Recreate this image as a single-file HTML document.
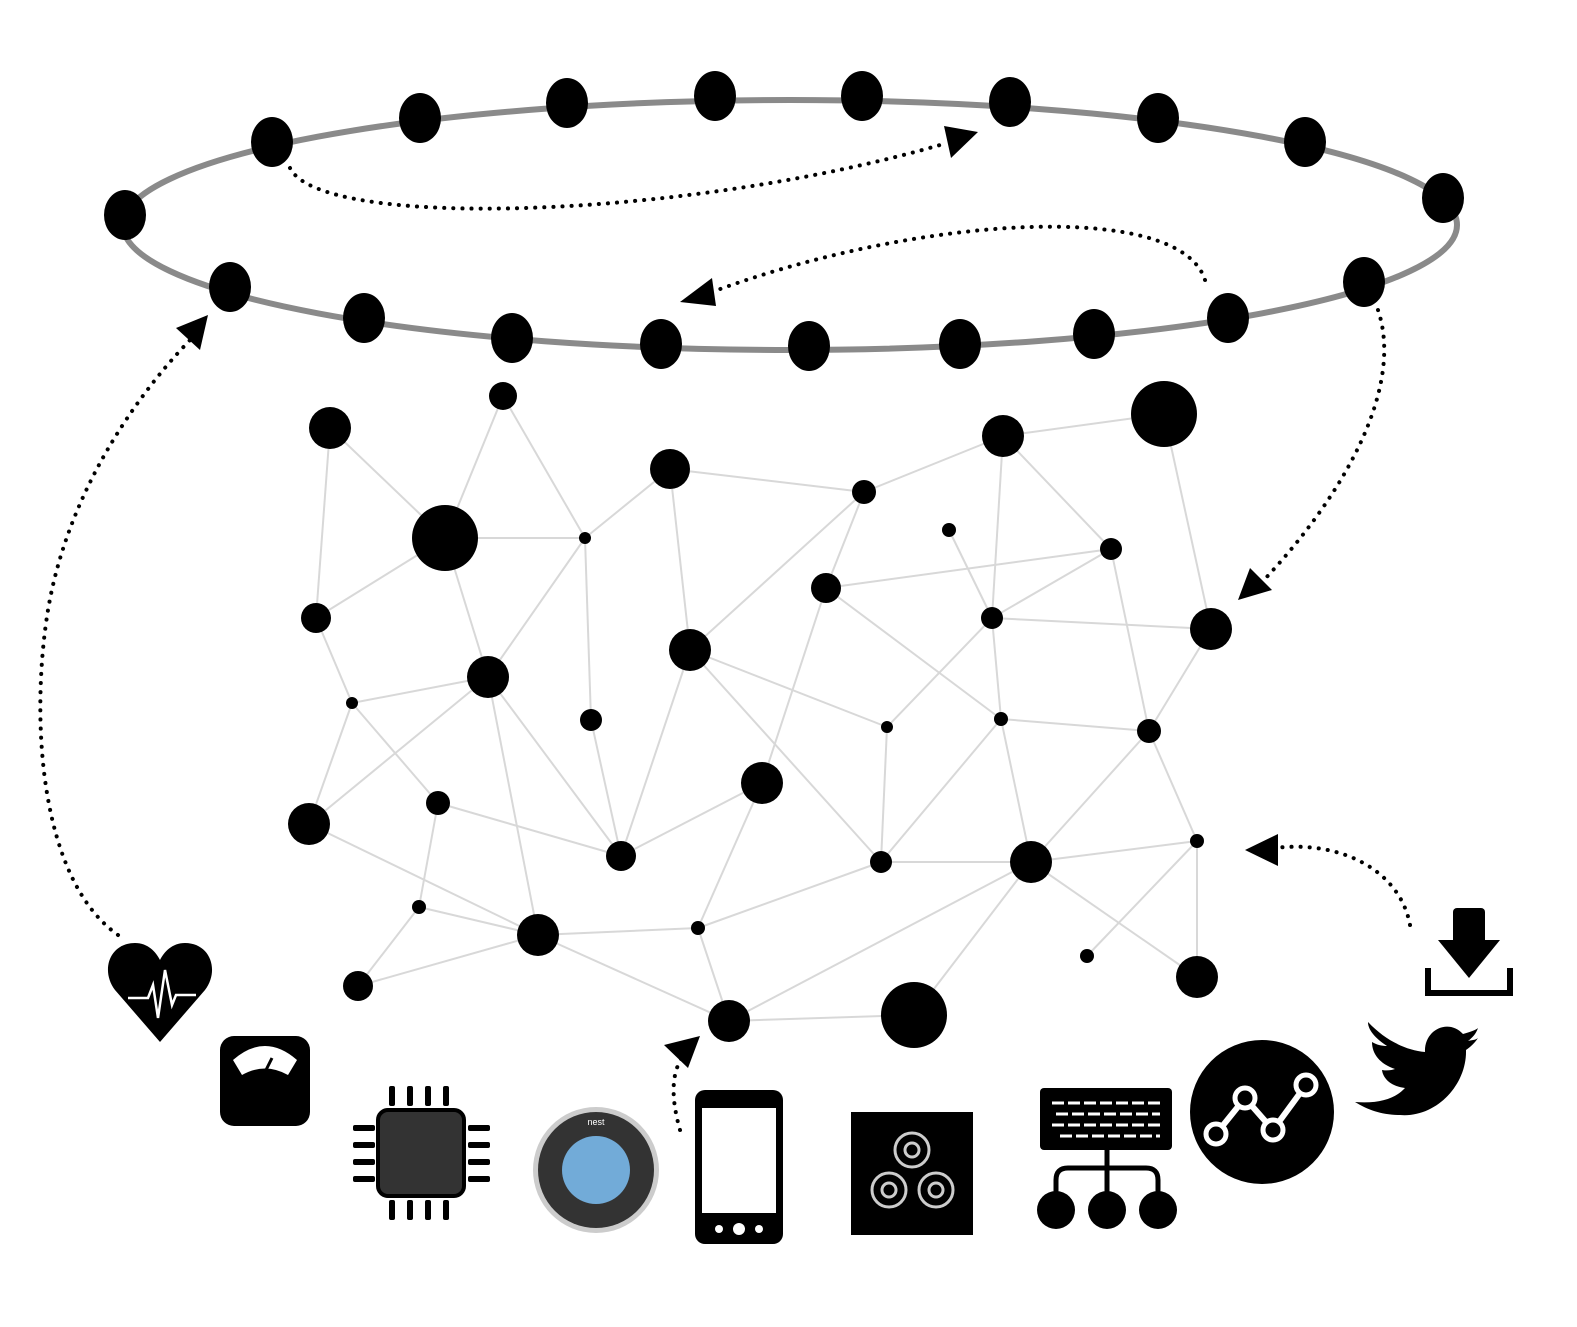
<!DOCTYPE html>
<html><head><meta charset="utf-8"><style>
html,body{margin:0;padding:0;background:#fff;}
svg{display:block;}
</style></head><body>
<svg id="s" width="1577" height="1327" viewBox="0 0 1577 1327" xmlns="http://www.w3.org/2000/svg">
<g id="edges"></g>
<g id="nodes"></g>
<ellipse cx="790" cy="225" rx="667" ry="125" fill="none" stroke="#8a8a8a" stroke-width="6"/>
<g id="ring"></g>
<g fill="none" stroke="#000" stroke-width="4" stroke-dasharray="0.1 9" stroke-linecap="round">
<path d="M290,168 C320,230 680,220 940,145"/>
<path d="M1205,280 C1180,200 920,215 712,292"/>
<path d="M1378,310 C1405,390 1340,500 1262,582"/>
<path d="M118,935 C40,880 30,720 48,610 C70,480 150,380 195,335"/>
<path d="M1410,925 C1400,870 1340,840 1275,848"/>
<path d="M680,1130 C670,1095 672,1070 684,1055"/>
</g>
<g fill="#000">
<polygon points="978,132 944,126 951,158"/>
<polygon points="680,302 712,278 716,306"/>
<polygon points="1238,600 1250,568 1272,590"/>
<polygon points="208,315 176,328 200,350"/>
<polygon points="1245,850 1278,834 1278,866"/>
<polygon points="700,1036 664,1045 688,1068"/>
</g>

<g>
<path d="M160,1042 L115,990 C100,970 110,943 135,943 C148,943 156,952 160,960 C164,952 172,943 185,943 C210,943 220,970 205,990 Z" fill="#000"/>
<polyline points="128,998 148,998 153,985 158,1018 165,970 172,1005 176,995 196,995" fill="none" stroke="#fff" stroke-width="2.5"/>
</g>
<g>
<rect x="220" y="1036" width="90" height="90" rx="14" fill="#000"/>
<path d="M233,1060 Q265,1032 297,1060 L288,1075 Q265,1062 242,1075 Z" fill="#fff"/>
<line x1="265" y1="1072" x2="272" y2="1058" stroke="#000" stroke-width="3"/>
</g>
<g>
<rect x="378" y="1110" width="86" height="86" rx="10" fill="#333" stroke="#000" stroke-width="4"/>
<g id="pins" fill="#000"></g>
</g>
<g>
<circle cx="596" cy="1170" r="63" fill="#ccc"/>
<circle cx="596" cy="1170" r="58" fill="#333"/>
<circle cx="596" cy="1170" r="34" fill="#72abd8"/>
<text x="596" y="1125" font-family="Liberation Sans, sans-serif" font-size="9" fill="#fff" text-anchor="middle">nest</text>
</g>
<g>
<rect x="695" y="1090" width="88" height="154" rx="10" fill="#000"/>
<rect x="702" y="1108" width="74" height="105" fill="#fff"/>
<circle cx="739" cy="1229" r="6" fill="#fff"/><circle cx="719" cy="1229" r="4" fill="#fff"/><circle cx="759" cy="1229" r="4" fill="#fff"/>
</g>
<g>
<rect x="851" y="1112" width="122" height="123" fill="#000"/>
<g fill="none" stroke="#ccc" stroke-width="3">
<circle cx="912" cy="1150" r="17"/><circle cx="889" cy="1190" r="17"/><circle cx="936" cy="1190" r="17"/>
<circle cx="912" cy="1150" r="7"/><circle cx="889" cy="1190" r="7"/><circle cx="936" cy="1190" r="7"/>
</g>
</g>
<g>
<rect x="1040" y="1088" width="132" height="62" rx="4" fill="#000"/>
<g stroke="#fff" stroke-width="3" stroke-dasharray="12 4">
<line x1="1052" y1="1103" x2="1160" y2="1103"/><line x1="1056" y1="1114" x2="1160" y2="1114"/><line x1="1052" y1="1125" x2="1160" y2="1125"/><line x1="1060" y1="1136" x2="1160" y2="1136"/>
</g>
<path d="M1107,1150 V1195 M1056,1195 V1180 Q1056,1168 1068,1168 H1146 Q1158,1168 1158,1180 V1195" fill="none" stroke="#000" stroke-width="5"/>
<circle cx="1056" cy="1210" r="19" fill="#000"/><circle cx="1107" cy="1210" r="19" fill="#000"/><circle cx="1158" cy="1210" r="19" fill="#000"/>
</g>
<g>
<circle cx="1262" cy="1112" r="72" fill="#000"/>
<polyline points="1216,1134 1245,1098 1273,1130 1306,1085" fill="none" stroke="#fff" stroke-width="6"/>
<g fill="#000" stroke="#fff" stroke-width="5"><circle cx="1216" cy="1134" r="10"/><circle cx="1245" cy="1098" r="10"/><circle cx="1273" cy="1130" r="10"/><circle cx="1306" cy="1085" r="10"/></g>
</g>
<g>
<path d="M1355,1102 C1380,1104 1396,1098 1405,1088 C1390,1086 1383,1078 1382,1070 C1388,1071 1392,1070 1395,1069 C1380,1064 1372,1054 1372,1042 C1377,1045 1382,1046 1387,1046 C1372,1036 1368,1028 1368,1022 C1385,1040 1405,1050 1425,1052 C1424,1030 1448,1018 1463,1034 C1470,1032 1476,1030 1478,1028 C1476,1034 1472,1038 1468,1041 C1472,1040 1476,1040 1478,1038 C1474,1044 1470,1047 1466,1050 C1467,1085 1436,1118 1400,1115 C1382,1115 1368,1110 1355,1102 Z" fill="#000"/>
</g>
<g>
<rect x="1453" y="908" width="32" height="40" rx="4" fill="#000"/>
<polygon points="1438,940 1500,940 1469,978" fill="#000"/>
<path d="M1428,968 V993 H1510 V968" fill="none" stroke="#000" stroke-width="6"/>
</g>
</svg>
<script>
const ringX=[125,272,420,567,715,862,1010,1158,1305,1443,1364,1228,1094,960,809,661,512,364,230];
const ringY=[215,142,118,103,96,96,102,118,142,198,282,318,334,344,346,344,338,318,287];
const nodeIds=["A","B","C","D","E","F","G","H","I","J","K","L","M","N","O","P","Q","R","S","T","U","V","W","X","Y","Z","AA","AB","AC","AD","AE","AF","AG","AH","AI","AJ"];
const nodeX=[330,503,445,585,670,864,1003,1164,949,1111,826,316,992,1211,690,488,352,591,887,1001,1149,762,438,309,621,881,1031,1197,419,538,698,1087,1197,358,729,914];
const nodeY=[428,396,538,538,469,492,436,414,530,549,588,618,618,629,650,677,703,720,727,719,731,783,803,824,856,862,862,841,907,935,928,956,977,986,1021,1015];
const nodeR=[21,14,33,6,20,12,21,33,7,11,15,15,11,21,21,21,6,11,6,7,12,21,12,21,15,11,21,7,7,21,7,7,21,15,21,33];
const edgeFrom=["A","A","B","B","C","C","C","D","D","D","E","E","F","F","F","G","G","G","H","I","J","J","J","M","M","M","K","K","L","Q","Q","Q","P","P","P","O","O","O","R","T","T","T","S","U","U","U","V","V","W","W","X","AC","AC","AH","AD","AD","AE","AE","Z","AA","AA","AA","AA","AB","AB","AI"];
const edgeTo=["C","L","C","D","D","L","P","E","P","R","O","F","O","K","G","H","J","M","N","M","K","M","U","N","S","T","T","V","Q","P","W","X","X","Y","AD","Y","S","Z","Y","U","Z","AA","Z","N","AA","AB","Y","AE","Y","AC","AD","AD","AH","AD","AE","AI","Z","AI","AA","AB","AG","AI","AJ","AF","AG","AJ"];
const NS="http://www.w3.org/2000/svg";
const idx=id=>nodeIds.indexOf(id);
const eg=document.getElementById('edges');
for(let i=0;i<edgeFrom.length;i++){
  const a=idx(edgeFrom[i]),b=idx(edgeTo[i]);
  const l=document.createElementNS(NS,'line');
  l.setAttribute('x1',nodeX[a]);l.setAttribute('y1',nodeY[a]);l.setAttribute('x2',nodeX[b]);l.setAttribute('y2',nodeY[b]);
  l.setAttribute('stroke','#d8d8d8');l.setAttribute('stroke-width','2');
  
  
  eg.appendChild(l);
}
const ng=document.getElementById('nodes');
for(let i=0;i<nodeX.length;i++){
  const c=document.createElementNS(NS,'circle');
  c.setAttribute('cx',nodeX[i]);c.setAttribute('cy',nodeY[i]);c.setAttribute('r',nodeR[i]);c.setAttribute('fill','#000');
  
  
  ng.appendChild(c);
}
const rg=document.getElementById('ring');
for(let i=0;i<ringX.length;i++){
  const e=document.createElementNS(NS,'ellipse');
  e.setAttribute('cx',ringX[i]);e.setAttribute('cy',ringY[i]);e.setAttribute('rx',21);e.setAttribute('ry',25);e.setAttribute('fill','#000');
  
  
  rg.appendChild(e);
}
const pg=document.getElementById('pins');
for(let k=0;k<4;k++){
  const o=392+k*18;
  [[o-3,1086,6,20],[o-3,1200,6,20]].forEach(r=>{const p=document.createElementNS(NS,'rect');p.setAttribute('x',r[0]);p.setAttribute('y',r[1]);p.setAttribute('width',r[2]);p.setAttribute('height',r[3]);p.setAttribute('rx',2);
    
    
    pg.appendChild(p);});
  const v=1128+k*17;
  [[353,v-3,22,6],[468,v-3,22,6]].forEach(r=>{const p=document.createElementNS(NS,'rect');p.setAttribute('x',r[0]);p.setAttribute('y',r[1]);p.setAttribute('width',r[2]);p.setAttribute('height',r[3]);p.setAttribute('rx',2);
    
    
    pg.appendChild(p);});
}
</script>
</body></html>
